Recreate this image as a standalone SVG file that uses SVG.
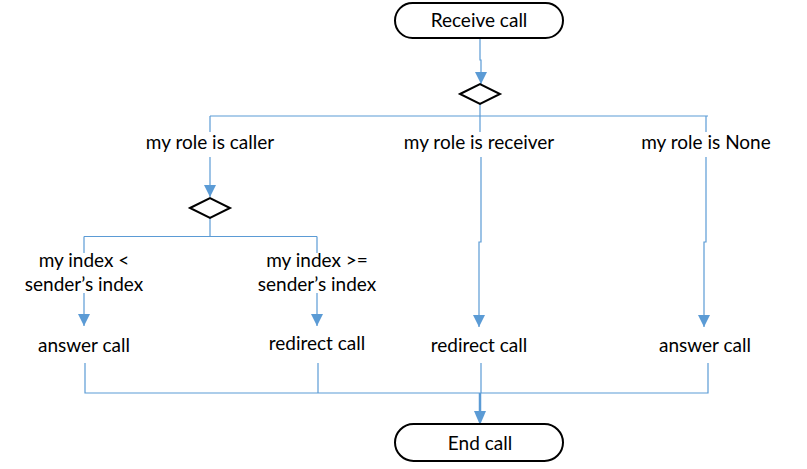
<svg xmlns="http://www.w3.org/2000/svg" width="807" height="469" viewBox="0 0 807 469">
<defs>
<marker id="ah" markerWidth="12" markerHeight="12" refX="12" refY="6" orient="auto" markerUnits="userSpaceOnUse">
<path d="M0,0 L12,6 L0,12 Z" fill="#5B9BD5"/>
</marker>
<style>
.t{font-family:Lato,"Liberation Sans",sans-serif;font-size:19px;fill:#000;text-anchor:middle}
.term{fill:#fff;stroke:#000;stroke-width:2}
.dia{fill:#fff;stroke:#000;stroke-width:2}
.c{fill:none;stroke:#5B9BD5;stroke-width:1.2}
.ca{fill:none;stroke:#5B9BD5;stroke-width:1.2;marker-end:url(#ah)}
</style>
</defs>
<rect width="807" height="469" fill="#fff"/>
<g id="connectors">
<path class="ca" d="M480,38 V60 H481 V84"/>
<path class="c" d="M480,104 V116"/>
<path class="c" d="M210,116 H708"/>
<path class="c" d="M210,116 V132"/>
<path class="c" d="M480,116 V132"/>
<path class="c" d="M706,116 V132"/>
<path class="ca" d="M210,157 V197"/>
<path class="c" d="M210,218 V236.5"/>
<path class="c" d="M84,236.5 H317"/>
<path class="c" d="M84,236.5 V253"/>
<path class="c" d="M317,236.5 V253"/>
<path class="ca" d="M84,293 V326"/>
<path class="ca" d="M317,293 V326"/>
<path class="ca" d="M481,157 V242 H479 V327"/>
<path class="ca" d="M706,157 V242 H704 V327"/>
<path class="c" d="M85,363 V393 H708 V363"/>
<path class="c" d="M318,363 V393"/>
<path class="c" d="M481,363 V393"/>
<path fill="none" stroke="#5B9BD5" stroke-width="2.5" d="M480,393 V412"/>
<path fill="#5B9BD5" d="M474,411 L486,411 L480,425 Z"/>
</g>
<g id="receive"><rect class="term" x="395" y="3" width="168" height="35" rx="17.5"/><text class="t" x="479" y="27">Receive call</text></g>
<g id="dec1"><path class="dia" d="M460,94 L480,84 L500,94 L480,104 Z"/></g>
<g id="caller"><text class="t" x="210" y="149">my role is caller</text></g>
<g id="receiver"><text class="t" x="479" y="149">my role is receiver</text></g>
<g id="none"><text class="t" x="706" y="149">my role is None</text></g>
<g id="dec2"><path class="dia" d="M190,208 L210,198 L230,208 L210,218 Z"/></g>
<g id="lt"><text class="t" x="84" y="267">my index &lt;</text><text class="t" x="84" y="291">sender’s index</text></g>
<g id="ge"><text class="t" x="317" y="267">my index &gt;=</text><text class="t" x="317" y="291">sender’s index</text></g>
<g id="answer1"><text class="t" x="84" y="352">answer call</text></g>
<g id="redirect1"><text class="t" x="317" y="350">redirect call</text></g>
<g id="redirect2"><text class="t" x="479" y="352">redirect call</text></g>
<g id="answer2"><text class="t" x="705" y="352">answer call</text></g>
<g id="end"><rect class="term" x="395" y="424" width="168" height="37" rx="18.5"/><text class="t" x="480" y="450">End call</text></g>
</svg>
